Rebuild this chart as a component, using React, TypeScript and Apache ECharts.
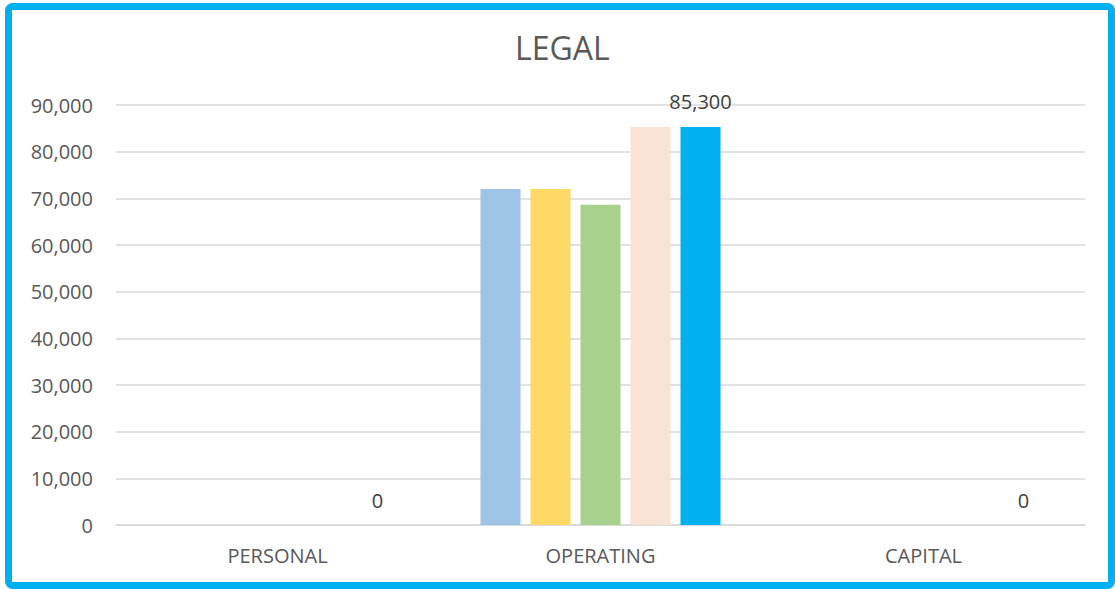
import React, { useEffect, useRef } from "react";
import * as echarts from "echarts";

const categories = ["PERSONAL", "OPERATING", "CAPITAL"];
const seriesNames = ["Series 1", "Series 2", "Series 3", "Series 4", "Series 5"];
const series1 = [0, 72000, 0];
const series2 = [0, 72000, 0];
const series3 = [0, 68600, 0];
const series4 = [0, 85300, 0];
const series5 = [0, 85300, 0];
const seriesColors = ["#9DC3E6", "#FFD966", "#A9D18E", "#F9E3D6", "#00B0F0"];
const labelledSeries = [false, false, false, false, true];

const fmt = (v: number) => v.toLocaleString("en-US");

export default function App() {
  const ref = useRef<HTMLDivElement>(null);
  useEffect(() => {
    if (!ref.current) return;
    const chart = echarts.init(ref.current, null, { renderer: "svg" });
    const allData = [series1, series2, series3, series4, series5];
    const font = "'Open Sans', sans-serif";
    chart.setOption({
      animation: false,
      textStyle: { fontFamily: font },
      title: {
        text: "LEGAL",
        left: 515,
        top: 31,
        padding: 0,
        textStyle: { fontSize: 32, fontWeight: "normal", color: "#595959", fontFamily: font },
      },
      grid: { left: 116, right: 30, top: 105, bottom: 64, containLabel: false },
      xAxis: {
        type: "category",
        data: categories,
        axisLine: { show: true, lineStyle: { color: "#D9D9D9", width: 1.5 } },
        axisTick: { show: false },
        axisLabel: { color: "#595959", fontSize: 20, margin: 20, fontFamily: font },
      },
      yAxis: {
        type: "value",
        min: 0,
        max: 90000,
        interval: 10000,
        axisLine: { show: false },
        axisTick: { show: false },
        splitLine: { lineStyle: { color: "#D9D9D9", width: 1.5 } },
        axisLabel: {
          color: "#595959",
          fontSize: 20,
          margin: 23,
          fontFamily: font,
          formatter: (v: number) => fmt(v),
        },
      },
      series: allData.map((d, i) => ({
        name: seriesNames[i],
        type: "bar",
        data: d,
        barWidth: 40,
        barGap: "25%",
        itemStyle: { color: seriesColors[i] },
        label: {
          show: labelledSeries[i],
          position: "top",
          distance: 15,
          color: "#404040",
          fontSize: 20,
          fontFamily: font,
          formatter: (p: any) => fmt(p.value),
        },
      })),
      graphic: [
        {
          type: "rect",
          shape: { x: 8.5, y: 6.5, width: 1103, height: 579, r: 4 },
          style: { fill: "none", stroke: "#00B0F0", lineWidth: 7 },
          silent: true,
        },
      ],
    });
    return () => chart.dispose();
  }, []);
  return (
    <div
      ref={ref}
      style={{ position: "fixed", left: 0, top: 0, width: 1115, height: 589, background: "#fff" }}
    />
  );
}
